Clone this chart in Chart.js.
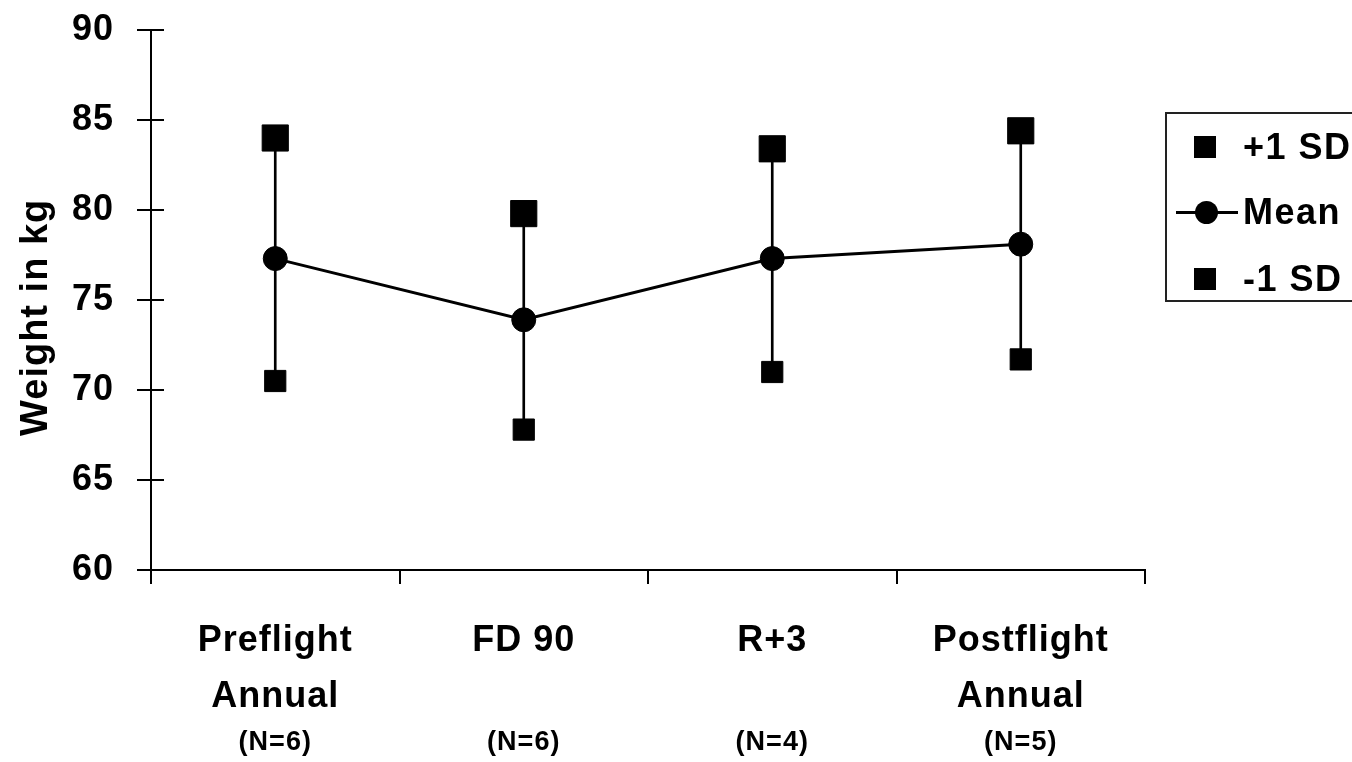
<!DOCTYPE html>
<html>
<head>
<meta charset="utf-8">
<title>Weight in kg</title>
<script src="https://cdn.jsdelivr.net/npm/chart.js@4"></script>
<style>
  html, body { margin: 0; padding: 0; background: #fff; overflow: hidden; }
  #wrap { position: relative; width: 1352px; height: 762px; }
  #legend {
    position: absolute; left: 1165px; top: 112px; width: 220px; height: 190px;
    border: 2px solid #222; border-right: none; box-sizing: border-box;
    font-family: 'Liberation Sans', Arial, sans-serif;
    font-weight: bold; font-size: 36px; letter-spacing: 1.5px; color: #000;
  }
  .item { position: absolute; left: 0; height: 40px; line-height: 40px; }
  .item span { position: absolute; left: 76px; top: 0; white-space: nowrap; }
  .sq { position: absolute; left: 27px; top: 9px; width: 22px; height: 22px; background: #000; }
  .ln { position: absolute; left: 9px; top: 19px; width: 62px; height: 3px; background: #000; }
  .dot { position: absolute; left: 28px; top: 9px; width: 23px; height: 23px; border-radius: 50%; background: #000; }
</style>
</head>
<body>
<div id="wrap">
  <canvas id="chart" width="1352" height="762"></canvas>
  <div id="legend">
    <div class="item" style="top:13px"><div class="sq"></div><span>+1 SD</span></div>
    <div class="item" style="top:78px"><div class="ln"></div><div class="dot"></div><span>Mean</span></div>
    <div class="item" style="top:145px"><div class="sq"></div><span>-1 SD</span></div>
  </div>
</div>
<script>
// categories and values
const categorias = [['Preflight', 'Annual'], 'FD 90', 'R+3', ['Postflight', 'Annual']];
const amostras = ['(N=6)', '(N=6)', '(N=4)', '(N=5)'];
const media = [77.3, 73.9, 77.3, 78.1];
const maisDP = [84.0, 79.8, 83.4, 84.4];
const menosDP = [70.5, 67.8, 71.0, 71.7];
const yTicks = [60, 65, 70, 75, 80, 85, 90];

const FONTE = "'Liberation Sans', Arial, sans-serif";

// vertical bars from -1 SD to +1 SD
const barrasErro = menosDP.map((v, i) => [v, maisDP[i]]);

// canvas letter spacing (reset whenever the canvas is resized)
const espacamento = {
    id: 'espacamento',
    beforeUpdate(chart) { chart.ctx.letterSpacing = '1px'; },
    beforeDraw(chart) { chart.ctx.letterSpacing = '1px'; }
};

// tick marks on the y axis also cross into the plot
const ticksInternos = {
    id: 'ticksInternos',
    afterDraw(chart) {
        const y = chart.scales.y;
        const ctx = chart.ctx;
        ctx.save();
        ctx.strokeStyle = '#000';
        ctx.lineWidth = 2;
        yTicks.forEach(v => {
            const py = Math.round(y.getPixelForValue(v));
            ctx.beginPath();
            ctx.moveTo(y.right, py);
            ctx.lineTo(y.right + 13, py);
            ctx.stroke();
        });
        ctx.restore();
    }
};

new Chart(document.getElementById('chart'), {
    type: 'line',
    data: {
        labels: categorias,
        datasets: [
            {
                label: 'Mean',
                data: media,
                borderColor: '#000',
                backgroundColor: '#000',
                borderWidth: 3,
                pointStyle: 'circle',
                pointRadius: 12,
                pointBorderWidth: 1,
                order: 1
            },
            {
                label: '+1 SD',
                data: maisDP,
                showLine: false,
                borderColor: '#000',
                backgroundColor: '#000',
                pointStyle: 'rect',
                pointRadius: 18.5,
                pointBorderWidth: 1,
                order: 2
            },
            {
                label: '-1 SD',
                data: menosDP,
                showLine: false,
                borderColor: '#000',
                backgroundColor: '#000',
                pointStyle: 'rect',
                pointRadius: 15,
                pointBorderWidth: 1,
                order: 3
            },
            {
                type: 'bar',
                label: 'SD',
                data: barrasErro,
                backgroundColor: '#000',
                borderWidth: 0,
                barThickness: 2,
                order: 10
            }
        ]
    },
    options: {
        responsive: false,
        animation: false,
        layout: { padding: { top: 30, right: 207, left: 0, bottom: 0 } },
        plugins: {
            legend: { display: false },
            tooltip: { enabled: false }
        },
        scales: {
            x: {
                offset: true,
                grid: { offset: true, drawOnChartArea: false, drawTicks: true, tickLength: 14, color: '#000', lineWidth: 2 },
                border: { display: true, color: '#000', width: 2 },
                ticks: {
                    color: '#000',
                    padding: 29,
                    maxRotation: 0,
                    autoSkip: false,
                    font: { family: FONTE, size: 36, weight: 'bold', lineHeight: '56px' }
                },
                afterFit(scale) { scale.height = 150; scale.paddingLeft = 0; scale.paddingRight = 0; }
            },
            x2: {
                type: 'category',
                position: 'bottom',
                weight: 1,
                labels: amostras,
                offset: true,
                grid: { display: false, drawTicks: false },
                border: { display: false },
                ticks: {
                    color: '#000',
                    padding: 6,
                    maxRotation: 0,
                    autoSkip: false,
                    font: { family: FONTE, size: 27, weight: 'bold' }
                },
                afterFit(scale) { scale.height = 42; scale.paddingLeft = 0; scale.paddingRight = 0; }
            },
            y: {
                min: 60,
                max: 90,
                afterBuildTicks(scale) { scale.ticks = yTicks.map(v => ({ value: v })); },
                grid: { drawOnChartArea: false, drawTicks: true, tickLength: 14, color: '#000', lineWidth: 2 },
                border: { display: true, color: '#000', width: 2 },
                ticks: {
                    color: '#000',
                    padding: 23,
                    font: { family: FONTE, size: 36, weight: 'bold' }
                },
                title: {
                    display: true,
                    // trailing spaces nudge the rotated title down a little, as in the original
                    text: 'Weight in kg   ',
                    color: '#000',
                    padding: { top: 14, bottom: 0 },
                    font: { family: FONTE, size: 38, weight: 'bold' }
                },
                afterFit(scale) { scale.width = 151; scale.paddingTop = 0; scale.paddingBottom = 0; }
            }
        }
    },
    plugins: [espacamento, ticksInternos]
});
</script>
</body>
</html>
